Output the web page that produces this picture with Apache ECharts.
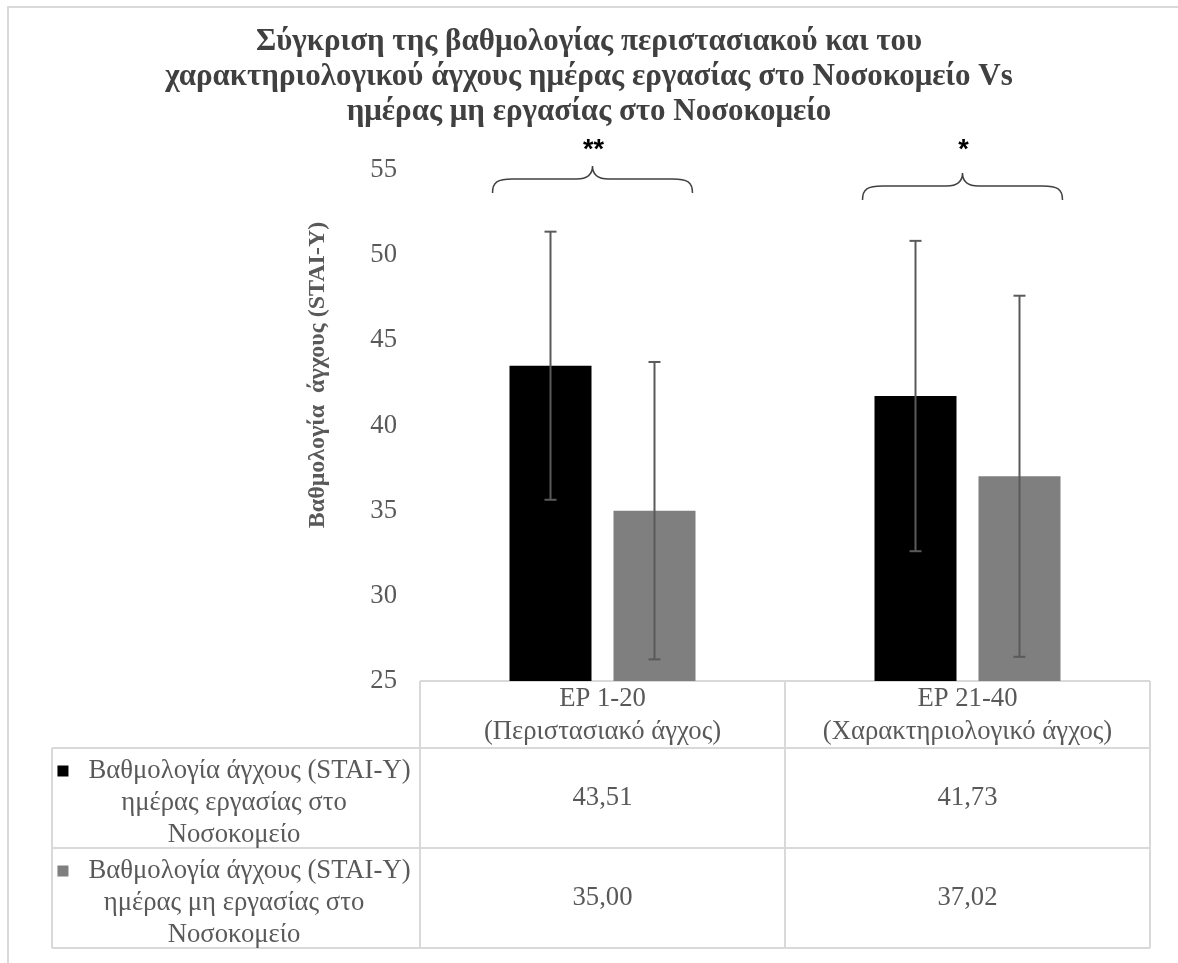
<!DOCTYPE html>
<html><head><meta charset="utf-8">
<script src="https://cdn.jsdelivr.net/npm/echarts@6/dist/echarts.min.js"></script>
<style>html,body{margin:0;padding:0;background:#fff}#c{width:1178px;height:963px}</style>
</head><body><div id="c"></div>
<script>
// ---------- data ----------
const categories = ['EP 1-20', 'EP 21-40'];
const categorySub = ['(Περιστασιακό άγχος)', '(Χαρακτηριολογικό άγχος)'];
const seriesNames = [
  'Βαθμολογία άγχους (STAI-Y) ημέρας εργασίας στο Νοσοκομείο',
  'Βαθμολογία άγχους (STAI-Y) ημέρας μη εργασίας στο Νοσοκομείο'
];
const seriesLabelLines = [
  ['Βαθμολογία άγχους (STAI-Y)', 'ημέρας εργασίας στο', 'Νοσοκομείο'],
  ['Βαθμολογία άγχους (STAI-Y)', 'ημέρας μη εργασίας στο', 'Νοσοκομείο']
];
const workDay = [43.51, 41.73];
const offDay = [35.00, 37.02];
const workDaySD = [7.87, 9.11];
const offDaySD = [8.73, 10.6];
const yMin = 25, yMax = 55, yStep = 5;
const significance = ['**', '*'];
const bracketLevel = [53.65, 53.24];
const significanceLevel = [56.15, 56.15];
const titleLines = [
  'Σύγκριση της βαθμολογίας περιστασιακού και του',
  'χαρακτηριολογικού άγχους ημέρας εργασίας στο Νοσοκομείο Vs',
  'ημέρας μη εργασίας στο Νοσοκομείο'
];
const yAxisTitle = 'Βαθμολογία  άγχους (STAI-Y)';

// ---------- layout / style ----------
const W = 1178, H = 963;
const G = {left: 420, right: 28, top: 170, bottom: 282};
const BAR_W = 82, BAR_GAP = 22;
const colors = ['#000000', '#7f7f7f'];
const textGray = '#595959';
const lineGray = '#d9d9d9';
const serif = '"Liberation Serif", "Times New Roman", serif';
const bracketDx = [-10, -5];
const fmt = v => v.toFixed(2).replace('.', ',');

const plotW = W - G.left - G.right;
const colW = plotW / categories.length;
const tableTop = H - G.bottom;
const headerH = 67, rowH = 100, labelLeft = 52;
const barOffset = (BAR_W + BAR_GAP) / 2;

function errorSeries(means, sds, sign) {
  return {
    type: 'custom', z: 5, clip: false,
    data: means.map((m, i) => [i, m, sds[i]]),
    encode: {x: 0, y: 1},
    renderItem: function (params, api) {
      const ci = api.value(0), m = api.value(1), sd = api.value(2);
      const x = api.coord([ci, m])[0] + sign * barOffset;
      const yT = api.coord([ci, m + sd])[1];
      const yB = api.coord([ci, m - sd])[1];
      const st = {stroke: '#5a5a5a', lineWidth: 2};
      return {type: 'group', children: [
        {type: 'line', shape: {x1: x, y1: yT, x2: x, y2: yB}, style: st},
        {type: 'line', shape: {x1: x - 6, y1: yT, x2: x + 6, y2: yT}, style: st},
        {type: 'line', shape: {x1: x - 6, y1: yB, x2: x + 6, y2: yB}, style: st}
      ]};
    }
  };
}

const bracketSeries = {
  type: 'custom', z: 6, clip: false,
  data: bracketLevel.map((v, i) => [i, v, significanceLevel[i]]),
  encode: {x: 0, y: 1},
  renderItem: function (params, api) {
    const ci = api.value(0), lv = api.value(1), sl = api.value(2);
    const p = api.coord([ci, lv]);
    const cx = p[0] + bracketDx[ci], yE = p[1];
    const hw = 100, yH = yE - 14, yT = yH - 13;
    const x0 = cx - hw, x1 = cx + hw;
    const d = 'M' + x0 + ',' + yE + ' C' + x0 + ',' + (yH + 3) + ' ' + (x0 + 5) + ',' + yH + ' ' + (x0 + 20) + ',' + yH +
      ' L' + (cx - 16) + ',' + yH + ' C' + (cx - 5) + ',' + yH + ' ' + cx + ',' + (yH - 4) + ' ' + cx + ',' + yT +
      ' C' + cx + ',' + (yH - 4) + ' ' + (cx + 5) + ',' + yH + ' ' + (cx + 16) + ',' + yH +
      ' L' + (x1 - 20) + ',' + yH + ' C' + (x1 - 5) + ',' + yH + ' ' + x1 + ',' + (yH + 3) + ' ' + x1 + ',' + yE;
    const ys = api.coord([ci, sl])[1];
    return {type: 'group', children: [
      {type: 'path', shape: {pathData: d}, style: {stroke: '#404040', lineWidth: 1.5, fill: null}},
      {type: 'text', style: {text: significance[ci], x: cx + 1, y: ys, align: 'center', verticalAlign: 'middle',
        font: 'bold 27px "Liberation Sans", Arial, sans-serif', fill: '#000'}}
    ]};
  }
};

// ---------- table graphics ----------
const gfx = [];
const ln = (x1, y1, x2, y2) => gfx.push({type: 'line', shape: {x1, y1, x2, y2}, style: {stroke: lineGray, lineWidth: 2}, silent: true});
const tableBottom = tableTop + headerH + rowH * seriesNames.length;
ln(G.left, tableTop, W - G.right, tableTop);
for (let r = 0; r <= seriesNames.length; r++) {
  const y = tableTop + headerH + r * rowH;
  ln(labelLeft, y, W - G.right, y);
}
ln(labelLeft, tableTop + headerH, labelLeft, tableBottom);
for (let c = 0; c <= categories.length; c++) {
  const x = G.left + c * colW;
  ln(x, tableTop, x, tableBottom);
}
categories.forEach((c, i) => {
  gfx.push({type: 'text', style: {text: c + '\n' + categorySub[i], x: G.left + (i + 0.5) * colW, y: tableTop + headerH / 2 + 1,
    align: 'center', verticalAlign: 'middle', font: '26.7px ' + serif, fill: textGray, lineHeight: 33}});
});
const seriesData = [workDay, offDay];
seriesLabelLines.forEach((lines, r) => {
  const yc = tableTop + headerH + (r + 0.5) * rowH;
  gfx.push({type: 'text', style: {
    text: '{k|}   ' + lines.join('\n'),
    x: (labelLeft + G.left) / 2 - 2, y: yc + 5, align: 'center', verticalAlign: 'middle',
    font: '26.7px ' + serif, fill: textGray, lineHeight: 32,
    rich: {k: {backgroundColor: colors[r], width: 11, height: 11, lineHeight: 32}}
  }});
  seriesData[r].forEach((v, i) => {
    gfx.push({type: 'text', style: {text: fmt(v), x: G.left + (i + 0.5) * colW, y: yc,
      align: 'center', verticalAlign: 'middle', font: '26.7px ' + serif, fill: textGray}});
  });
});
gfx.push({type: 'text', style: {text: titleLines.join('\n'), x: W / 2, y: 24, align: 'center', verticalAlign: 'top',
  font: 'bold 31px ' + serif, fill: '#404040', lineHeight: 35}});
gfx.push({type: 'text', x: 318, y: 375, rotation: Math.PI / 2,
  style: {text: yAxisTitle, x: 0, y: 0, align: 'center', verticalAlign: 'middle', font: 'bold 24px ' + serif, fill: textGray}});
gfx.push({type: 'rect', shape: {x: 8, y: 7, width: 1300, height: 1100}, style: {stroke: lineGray, lineWidth: 2, fill: null}, silent: true, z: -1});

const chart = echarts.init(document.getElementById('c'), null, {renderer: 'canvas'});
chart.setOption({
  animation: false,
  backgroundColor: '#fff',
  grid: G,
  xAxis: {type: 'category', data: categories, axisLine: {show: false}, axisTick: {show: false}, axisLabel: {show: false}, splitLine: {show: false}},
  yAxis: {type: 'value', min: yMin, max: yMax, interval: yStep,
    axisLine: {show: false}, axisTick: {show: false}, splitLine: {show: false},
    axisLabel: {color: textGray, fontFamily: serif, fontSize: 26.7, margin: 23}},
  series: [
    {name: seriesNames[0], type: 'bar', data: workDay, barWidth: BAR_W, barGap: (BAR_GAP / BAR_W * 100) + '%', itemStyle: {color: colors[0]}},
    {name: seriesNames[1], type: 'bar', data: offDay, barWidth: BAR_W, itemStyle: {color: colors[1]}},
    errorSeries(workDay, workDaySD, -1),
    errorSeries(offDay, offDaySD, 1),
    bracketSeries
  ],
  graphic: {elements: gfx}
});
</script></body></html>
